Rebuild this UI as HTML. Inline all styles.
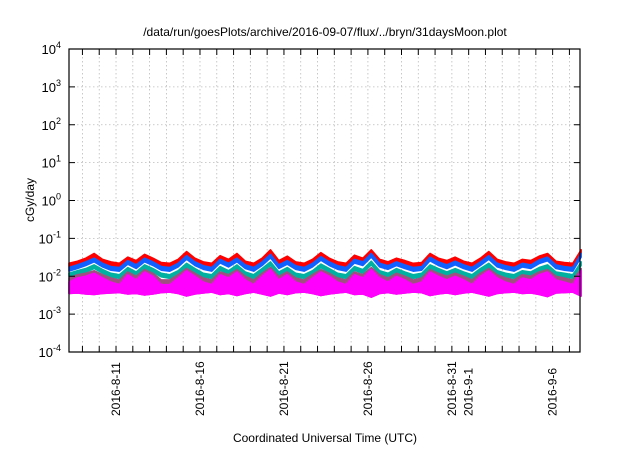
<!DOCTYPE html>
<html><head><meta charset="utf-8"><style>
body{margin:0;background:#fff;width:640px;height:448px;overflow:hidden}
svg{font-family:"Liberation Sans",sans-serif}
</style></head><body>
<svg id="chart" width="640" height="448">
<text x="325" y="36" font-size="12" text-anchor="middle">/data/run/goesPlots/archive/2016-09-07/flux/../bryn/31daysMoon.plot</text>
<text transform="translate(34,200) rotate(-90)" font-size="12" text-anchor="middle">cGy/day</text>
<text x="325" y="442" font-size="12" text-anchor="middle">Coordinated Universal Time (UTC)</text>
<g id="grid"></g><g id="series"></g><g id="axes"></g>
</svg>
<script>
const yTickExps=[4,3,2,1,0,-1,-2,-3,-4];
const xTickLabels=["2016-8-11","2016-8-16","2016-8-21","2016-8-26","2016-8-31","2016-9-1","2016-9-6"];
const xTickDays=[0,5,10,15,20,21,26];
const seriesNames=["red","blue","teal"];
const seriesColors=["#ff0000","#1060ff","#00b0a0"];
// half-day samples starting at day -2.8 relative to 2016-8-11
const red=[0.022,0.025,0.03,0.04,0.028,0.024,0.022,0.032,0.026,0.038,0.03,0.023,0.022,0.028,0.045,0.03,0.024,0.022,0.035,0.028,0.04,0.025,0.022,0.03,0.05,0.026,0.034,0.024,0.022,0.028,0.042,0.03,0.024,0.022,0.036,0.03,0.05,0.028,0.024,0.03,0.026,0.022,0.023,0.04,0.03,0.026,0.032,0.025,0.022,0.03,0.045,0.028,0.024,0.022,0.028,0.026,0.034,0.04,0.025,0.023,0.022,0.05];
const blue=[0.017,0.02,0.024,0.03,0.022,0.018,0.017,0.026,0.02,0.03,0.024,0.018,0.017,0.022,0.035,0.024,0.019,0.017,0.028,0.022,0.03,0.02,0.017,0.024,0.038,0.02,0.026,0.019,0.017,0.022,0.033,0.024,0.019,0.017,0.028,0.024,0.04,0.022,0.019,0.024,0.02,0.017,0.018,0.032,0.024,0.02,0.025,0.02,0.017,0.024,0.035,0.022,0.019,0.017,0.022,0.02,0.027,0.032,0.02,0.018,0.017,0.04];
const teal=[0.012,0.014,0.016,0.02,0.015,0.012,0.011,0.017,0.013,0.02,0.016,0.012,0.011,0.014,0.022,0.016,0.012,0.011,0.018,0.014,0.02,0.013,0.011,0.016,0.024,0.013,0.017,0.012,0.011,0.014,0.021,0.016,0.012,0.011,0.018,0.015,0.025,0.014,0.012,0.016,0.013,0.011,0.012,0.02,0.016,0.013,0.016,0.013,0.011,0.016,0.022,0.014,0.012,0.011,0.014,0.013,0.017,0.02,0.013,0.012,0.011,0.024];
const purpleHigh=[0.009,0.011,0.012,0.014,0.011,0.009,0.008,0.013,0.01,0.015,0.012,0.008,0.008,0.011,0.016,0.012,0.009,0.008,0.013,0.011,0.015,0.01,0.008,0.012,0.017,0.01,0.013,0.009,0.008,0.011,0.015,0.012,0.009,0.008,0.013,0.011,0.017,0.011,0.009,0.012,0.01,0.008,0.009,0.015,0.012,0.01,0.012,0.01,0.008,0.012,0.016,0.011,0.009,0.008,0.011,0.01,0.013,0.015,0.01,0.009,0.008,0.016];
const magentaHigh=[0.007,0.009,0.01,0.012,0.009,0.007,0.006,0.011,0.008,0.013,0.01,0.006,0.006,0.009,0.014,0.01,0.007,0.006,0.011,0.009,0.013,0.008,0.006,0.01,0.015,0.008,0.011,0.007,0.006,0.009,0.013,0.01,0.007,0.006,0.011,0.009,0.015,0.009,0.007,0.01,0.008,0.006,0.007,0.013,0.01,0.008,0.01,0.008,0.006,0.01,0.014,0.009,0.007,0.006,0.009,0.008,0.011,0.013,0.008,0.007,0.006,0.014];
const magentaLow=[0.0035,0.0036,0.0034,0.0033,0.0035,0.0036,0.0037,0.0034,0.0035,0.0032,0.0034,0.0037,0.0038,0.0035,0.003,0.0034,0.0036,0.0038,0.0033,0.0035,0.0031,0.0035,0.0038,0.0034,0.003,0.0036,0.0033,0.0037,0.0038,0.0035,0.0031,0.0034,0.0036,0.0038,0.0033,0.0034,0.0028,0.0035,0.0037,0.0034,0.0036,0.0038,0.0037,0.0031,0.0034,0.0036,0.0033,0.0036,0.0038,0.0034,0.003,0.0035,0.0037,0.0038,0.0035,0.0036,0.0033,0.0029,0.0036,0.0037,0.0038,0.003];
const L=69,R=580,T=49,B=352,D0=-2.8,D1=27.63;
const ns="http://www.w3.org/2000/svg";
function xs(d){return L+(d-D0)/(D1-D0)*(R-L);}
function ys(v){return T+(4-Math.log10(v))/8*(B-T);}
function mk(tag,at,parent){const e=document.createElementNS(ns,tag);for(const k in at)e.setAttribute(k,at[k]);parent.appendChild(e);return e;}
const grid=document.getElementById('grid'),axes=document.getElementById('axes'),ser=document.getElementById('series');
for(let d=-2;d<=27;d++){
 const x=xs(d);
 const g=mk('line',{x1:x,x2:x,y1:T,y2:B,stroke:'#bbb','stroke-dasharray':'1.5,2.5','stroke-width':0.8},grid);
 
 
 const t1=mk('line',{x1:x,x2:x,y1:B,y2:B-6,stroke:'#000'},axes);
 
 
 const t2=mk('line',{x1:x,x2:x,y1:T,y2:T+6,stroke:'#000'},axes);
 
 
}
yTickExps.forEach(e=>{
 const y=ys(Math.pow(10,e));
 if(e<4&&e>-4){const g=mk('line',{x1:L,x2:R,y1:y,y2:y,stroke:'#bbb','stroke-dasharray':'1.5,2.5','stroke-width':0.8},grid);
 
 }
 const t=mk('line',{x1:L,x2:L+6,y1:y,y2:y,stroke:'#000'},axes);
 
 
 const t2=mk('line',{x1:R,x2:R-6,y1:y,y2:y,stroke:'#000'},axes);
 
 
 const tx=mk('text',{x:L-8,y:y+5,'font-size':13,'text-anchor':'end'},axes);
 
 
 tx.innerHTML='10<tspan dy="-6" font-size="9">'+e+'</tspan>';
});
xTickLabels.forEach((s,i)=>{
 const x=xs(xTickDays[i]);
 const tx=mk('text',{transform:`translate(${x+4},${B+64}) rotate(-90)`,'font-size':12},axes);
 
 
 tx.textContent=s;
});
const fr=mk('rect',{x:L,y:T,width:R-L,height:B-T,fill:'none',stroke:'#000','stroke-width':1.2},axes);


function band(hi,lo,color,name){
 const top=hi.map((v,i)=>xs(D0+i*0.5)+','+ys(v));
 const bot=lo.map((v,i)=>xs(D0+i*0.5)+','+ys(v)).reverse();
 const p=mk('polygon',{points:top.concat(bot).join(' '),fill:color,stroke:color,'stroke-width':1.5,'stroke-linejoin':'round'},ser);
 
 
}
[red,blue,teal].forEach((arr,si)=>{
 const base=arr.map((v,i)=>xs(D0+i*0.5)+','+ys(v));
 const lo=arr.map((v,i)=>xs(D0+i*0.5)+','+ys(v*0.8)).reverse();
 const p=mk('polygon',{points:base.concat(lo).join(' '),fill:seriesColors[si],stroke:seriesColors[si],'stroke-width':1.5,'stroke-linejoin':'round'},ser);
 
 
});
band(purpleHigh,magentaLow,'#a05080','series-purple');
band(magentaHigh,magentaLow,'#ff00ff','series-magenta');
</script>
</body></html>
